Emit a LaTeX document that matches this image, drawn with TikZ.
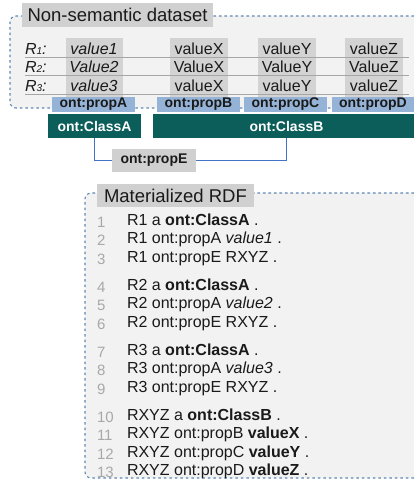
\documentclass[tikz,border=0pt]{standalone}
\usepackage{fontspec}
\setmainfont{Liberation Sans}
\definecolor{bgfill}{HTML}{F2F2F2}
\definecolor{dashblue}{HTML}{5F86B4}
\definecolor{titlegray}{HTML}{D0D0D0}
\definecolor{cellgray}{HTML}{D3D3D3}
\definecolor{propblue}{HTML}{95B3D7}
\definecolor{clsteal}{HTML}{0B5E5A}
\definecolor{connblue}{HTML}{4472C4}
\definecolor{rowgray}{HTML}{A6A6A6}
\definecolor{numgray}{HTML}{A8A8A8}
\definecolor{txt}{HTML}{1A1A1A}
\newcommand{\fsz}[1]{\fontsize{#1}{#1}\selectfont}
\newcommand{\rlab}[1]{\textit{R}{\fsz{10}\textit{#1}}\textit{:}}
\begin{document}
\begin{tikzpicture}[x=1pt,y=-1pt,
  every node/.style={inner sep=0pt, outer sep=0pt},
  frameline/.style={draw=dashblue, line width=1.1pt, dash pattern=on 2.6pt off 2.9pt},
  titlebox/.style={fill=titlegray, font=\fsz{18.5}, text=txt},
  cellbg/.style={fill=cellgray, minimum width=58pt, minimum height=59pt},
  val/.style={font=\fsz{16}, text=txt, anchor=base},
  rowline/.style={draw=rowgray, line width=0.8pt},
  propbox/.style={fill=propblue, minimum width=83pt, minimum height=15pt, font=\fsz{14}\bfseries, text=txt},
  clsbox/.style={minimum height=24pt, font=\fsz{14}\bfseries, text=white},
  labbox/.style={fill=titlegray, minimum width=84pt, minimum height=23pt, font=\fsz{14}\bfseries, text=txt},
  conn/.style={draw=connblue, line width=1.2pt},
  lnum/.style={font=\fsz{15}, text=numgray, anchor=base west},
  ltxt/.style={font=\fsz{16}, text=txt, anchor=base west}]
\useasboundingbox (0,0) rectangle (414,480);
% frames
\path[fill=bgfill] (414,16) [rounded corners=6pt] -- (10,16) -- (10,108) [sharp corners] -- (414,108) -- cycle;
\path[frameline] (414,16) [rounded corners=6pt] -- (10,16) -- (10,108) [sharp corners] -- (414,108);
\path[fill=bgfill] (414,193) [rounded corners=6pt] -- (85,193) -- (85,478) [sharp corners] -- (414,478) -- cycle;
\path[frameline] (414,193) [rounded corners=6pt] -- (85,193) -- (85,478) [sharp corners] -- (414,478);
% titles
\node[titlebox, minimum width=191pt, minimum height=24pt] (t1) at (117.5,15) {Non-semantic dataset};
\node[titlebox, minimum width=157pt, minimum height=23pt] (t2) at (175.5,195.5) {Materialized RDF};
% cells
\node[cellbg, minimum width=57pt] (c1) at (94.5,67.5) {};
\node[cellbg] (c2) at (199,67.5) {};
\node[cellbg] (c3) at (287,67.5) {};
\node[cellbg] (c4) at (374,67.5) {};
% row lines
\draw[rowline] (25,57) -- (409,57);
\draw[rowline] (25,75) -- (409,75);
\draw[rowline] (25,94) -- (409,94);
% row labels and values
\node[val, anchor=base west] (r1) at (25,54.5) {\rlab{1}};
\node[val, anchor=base west] (r2) at (25,72.5) {\rlab{2}};
\node[val, anchor=base west] (r3) at (25,91) {\rlab{3}};
\node[val] (v11) at (94,54.5) {\textit{value1}};
\node[val] (v21) at (94,72.5) {\textit{Value2}};
\node[val] (v31) at (94,91) {\textit{value3}};
\node[val] (v12) at (199,54.5) {valueX};
\node[val] (v22) at (199,72.5) {ValueX};
\node[val] (v32) at (199,91) {valueX};
\node[val] (v13) at (287,54.5) {valueY};
\node[val] (v23) at (287,72.5) {ValueY};
\node[val] (v33) at (287,91) {valueY};
\node[val] (v14) at (374,54.5) {valueZ};
\node[val] (v24) at (374,72.5) {ValueZ};
\node[val] (v34) at (374,91) {valueZ};
% properties
\node[propbox] (pA) at (93.5,104.5) {ont:propA};
\node[propbox] (pB) at (198.5,104.5) {ont:propB};
\node[propbox] (pC) at (285.5,104.5) {ont:propC};
\node[propbox, minimum width=82pt] (pD) at (373,104.5) {ont:propD};
% classes
\node[clsbox, fill=clsteal, minimum width=93pt] (clsA) at (94.5,126) {ont:ClassA};
\fill[clsteal] (153,114) rectangle (414,138);
\node[clsbox] (clsB) at (286.5,126) {ont:ClassB};
% connector
\node[labbox] (propE) at (154,160.5) {ont:propE};
\draw[conn] (clsA.south) |- (propE.west);
\draw[conn] (propE.east) -| (clsB.south);
% listing
\foreach \n/\y/\t in {
  1/225/{R1 a \textbf{ont:ClassA} .},
  2/243.5/{R1 ont:propA \textit{value1} .},
  3/262/{R1 ont:propE RXYZ .},
  4/290/{R2 a \textbf{ont:ClassA} .},
  5/308.5/{R2 ont:propA \textit{value2} .},
  6/327/{R2 ont:propE RXYZ .},
  7/355/{R3 a \textbf{ont:ClassA} .},
  8/373.5/{R3 ont:propA \textit{value3} .},
  9/392/{R3 ont:propE RXYZ .},
  10/420/{RXYZ a \textbf{ont:ClassB} .},
  11/438.5/{RXYZ ont:propB \textbf{valueX} .},
  12/457/{RXYZ ont:propC \textbf{valueY} .},
  13/475.5/{RXYZ ont:propD \textbf{valueZ} .}}{
  \node[lnum] (n\n) at (97,\y+2) {\n};
  \node[ltxt] (l\n) at (127,\y) {\t};
}
\end{tikzpicture}
\end{document}
